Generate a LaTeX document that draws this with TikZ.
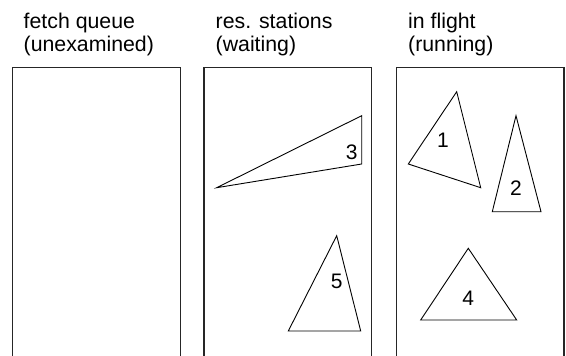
\documentclass[tikz,border=0pt]{standalone}
\usepackage{fontspec}
\setmainfont{Liberation Sans}
\begin{document}
\begin{tikzpicture}[x=1pt,y=-1pt,
  boxst/.style={draw=black!85,line width=1.2pt},
  tri/.style={draw=black,line width=0.9pt,line join=miter},
  title/.style={anchor=base west,inner sep=0pt,font=\fontsize{21.3}{24}\selectfont},
  num/.style={inner sep=0pt,font=\fontsize{21}{24}\selectfont}]
\useasboundingbox (0,0) rectangle (566,356);
% boxes
\draw[boxst] (12.5,67.5) rectangle (180.5,358);
\draw[boxst] (204,67.5) rectangle (371.5,358);
\draw[boxst] (396.5,67.5) rectangle (564,358);
% titles
\node[title] (t1a) at (23.5,28) {fetch queue};
\node[title] (t1b) at (23.5,52) {(unexamined)};
\node[title] (t2a) at (215.5,28) {res. stations};
\node[title] (t2b) at (215.5,52) {(waiting)};
\node[title] (t3a) at (408,28) {in flight};
\node[title] (t3b) at (408,52) {(running)};
% triangles
\draw[tri] (216.7,187.7) -- (361.7,115.7) -- (361.7,164) -- cycle;
\draw[tri] (336.7,235.7) -- (288.3,331) -- (360.7,331) -- cycle;
\draw[tri] (456.7,91.7) -- (408.3,164) -- (480.7,187.7) -- cycle;
\draw[tri] (516,115.7) -- (492.3,211.7) -- (541,211.7) -- cycle;
\draw[tri] (468.3,248.3) -- (420.7,320) -- (516.7,320) -- cycle;
% labels
\node[num] (n3) at (351.7,152.7) {3};
\node[num] (n5) at (336.7,281.7) {5};
\node[num] (n1) at (443,140) {1};
\node[num] (n2) at (516,187.7) {2};
\node[num] (n4) at (468.3,298.3) {4};
\end{tikzpicture}
\end{document}
